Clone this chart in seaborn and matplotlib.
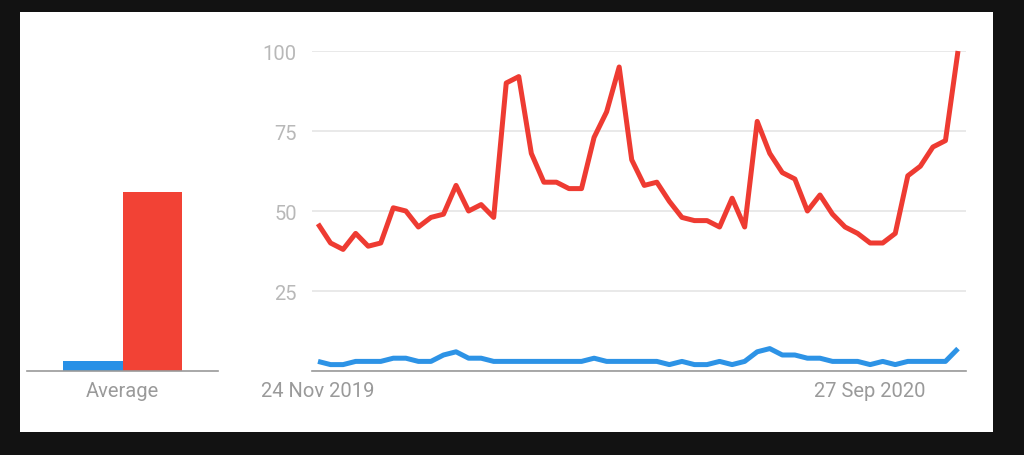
import numpy as np
import pandas as pd
import matplotlib
matplotlib.use("Agg")
import matplotlib.pyplot as plt
import seaborn as sns
from matplotlib.patches import Rectangle

# ---- data ----
start_date = "2019-11-24"
red_values = [46, 40, 38, 43, 39, 40, 51, 50, 45, 48, 49, 58, 50, 52, 48,
              90, 92, 68, 59, 59, 57, 57, 73, 81, 95, 66, 58, 59, 53, 48,
              47, 47, 45, 54, 45, 78, 68, 62, 60, 50, 55, 49, 45, 43, 40,
              40, 43, 61, 64, 70, 72, 100]
blue_values = [3, 2, 2, 3, 3, 3, 4, 4, 3, 3, 5, 6, 4, 4, 3,
               3, 3, 3, 3, 3, 3, 3, 4, 3, 3, 3, 3, 3, 2, 3,
               2, 2, 3, 2, 3, 6, 7, 5, 5, 4, 4, 3, 3, 3, 2,
               3, 2, 3, 3, 3, 3, 7]
series_names = ["blue", "red"]
average_values = [3, 56]
y_ticks = [0, 25, 50, 75, 100]
x_tick_labels = ["24 Nov 2019", "27 Sep 2020"]
x_tick_dates = ["2019-11-24", "2020-09-27"]

dates = pd.date_range(start_date, periods=len(red_values), freq="W-SUN")
df = pd.DataFrame({"date": list(dates) * 2,
                   "value": blue_values + red_values,
                   "series": ["blue"] * len(dates) + ["red"] * len(dates)})
avg_df = pd.DataFrame({"cat": ["Average", "Average"],
                       "value": average_values,
                       "series": series_names})

palette_line = {"blue": "#2d93e6", "red": "#ee3b32"}
palette_bar = {"blue": "#2890e6", "red": "#f24235"}

sns.set_theme(style="white")
plt.rcParams["font.family"] = ["Roboto", "DejaVu Sans"]

W, H = 1024, 456
fig = plt.figure(figsize=(W / 100, H / 100), dpi=100, facecolor="#121212")
panel = Rectangle((20 / W, (H - 433) / H), (993 - 20) / W, (433 - 13) / H,
                  transform=fig.transFigure, facecolor="white",
                  edgecolor="none", zorder=-10)
fig.add_artist(panel)

ybot = (H - 372) / H
yh = 320 / H

# ---- left: average bars ----
axb = fig.add_axes([27 / W, ybot, 191 / W, yh])
axb.set_facecolor("none")
axb.set_zorder(1)
sns.barplot(data=avg_df, x="cat", y="value", hue="series", palette=palette_bar,
            width=0.618, ax=axb, legend=False, saturation=1, linewidth=0)
axb.set_xlim(-0.5, 0.5)
axb.set_ylim(0, 100)
axb.set_yticks([])
axb.set_xlabel("")
axb.set_ylabel("")
for s in ["top", "right", "left"]:
    axb.spines[s].set_visible(False)
axb.spines["bottom"].set_color("#9a9a9a")
axb.spines["bottom"].set_linewidth(1.2)
axb.tick_params(axis="x", length=0, pad=7, labelsize=14.5, labelcolor="#9a9a9a")

# ---- right: time series ----
ax = fig.add_axes([312 / W, ybot, 654 / W, yh])
ax.set_facecolor("none")
ax.set_zorder(1)
sns.lineplot(data=df, x="date", y="value", hue="series", palette=palette_line,
             linewidth=3.6, ax=ax, legend=False)
for ln in ax.lines:
    ln.set_clip_on(False)
    ln.set_solid_joinstyle("round")
    ln.set_solid_capstyle("butt")
step = (dates[1] - dates[0])
ax.set_xlim(dates[0] - step * (6 / 12.55), dates[-1] + step * (8 / 12.55))
ax.set_ylim(0, 100)
ax.set_yticks(y_ticks)
ax.set_yticklabels(["" if t == 0 else str(t) for t in y_ticks])
ax.set_xticks(pd.to_datetime(x_tick_dates))
ax.set_xticklabels(x_tick_labels)
ax.set_xlabel("")
ax.set_ylabel("")
ax.grid(axis="y", color="#e3e3e3", linewidth=1.1)
ax.set_axisbelow(True)
for s in ["top", "right", "left"]:
    ax.spines[s].set_visible(False)
ax.spines["bottom"].set_color("#9a9a9a")
ax.spines["bottom"].set_linewidth(1.2)
ax.tick_params(axis="y", length=0, pad=11, labelsize=14.5, labelcolor="#b8b8b8")
ax.tick_params(axis="x", length=0, pad=7, labelsize=14.5, labelcolor="#9a9a9a")

fig.savefig("out.png", dpi=100, facecolor=fig.get_facecolor())
